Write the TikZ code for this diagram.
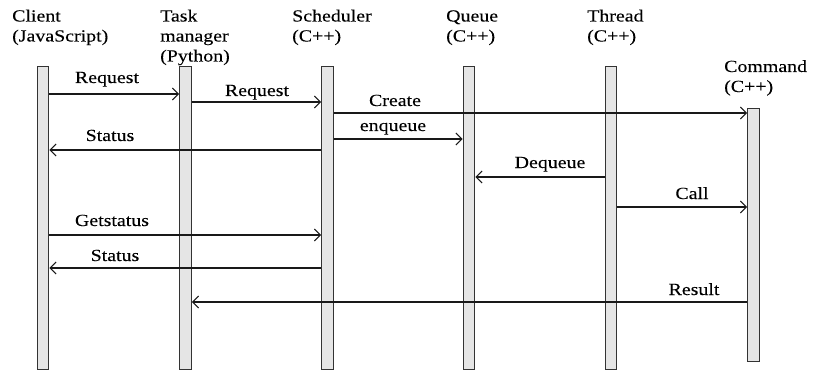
\documentclass[tikz,border=0pt]{standalone}
\usepackage{fontspec}
\setmainfont{Liberation Serif}[FakeStretch=1.17,FakeBold=0.12]
\usetikzlibrary{arrows.meta}
\begin{document}
\begin{tikzpicture}[x=1pt,y=-1pt,
  bar/.style={draw=black!80, fill=black!10, line width=1.1pt, minimum width=11.5pt, inner sep=0pt, anchor=north},
  msg/.style={draw=black!90, line width=1.1pt, -{Straight Barb[length=6pt,width=12pt,line width=1.1pt]}},
  lbl/.style={anchor=base, inner sep=0pt, font=\fontsize{17}{20}\selectfont},
  head/.style={anchor=base west, align=left, inner sep=0pt, font=\fontsize{17}{20}\selectfont}]
\useasboundingbox (0,0) rectangle (818,374);
% headers (anchor at baseline of last line)
\node[head] (hcl) at (12,41.5) {Client\\(JavaScript)};
\node[head] (htm) at (160,61.5) {Task\\manager\\(Python)};
\node[head] (hsc) at (292,41.5) {Scheduler\\(C++)};
\node[head] (hqu) at (446,41.5) {Queue\\(C++)};
\node[head] (hth) at (587,41.5) {Thread\\(C++)};
\node[head] (hcm) at (724,92) {Command\\(C++)};
% lifelines
\node[bar, minimum height=303pt] (cl) at (43,66) {};
\node[bar, minimum height=303pt] (tm) at (185.5,66) {};
\node[bar, minimum height=303pt] (sc) at (327.5,66) {};
\node[bar, minimum height=303pt] (qu) at (469,66) {};
\node[bar, minimum height=303pt] (th) at (611,66) {};
\node[bar, minimum height=253pt] (cm) at (753.5,108) {};
% message rows
\coordinate (r1) at (0,94);
\coordinate (r2) at (0,102);
\coordinate (r3) at (0,113);
\coordinate (r4) at (0,139);
\coordinate (r5) at (0,150);
\coordinate (r6) at (0,177);
\coordinate (r7) at (0,207);
\coordinate (r8) at (0,235);
\coordinate (r9) at (0,268);
\coordinate (r10) at (0,302);
% messages
\draw[msg] (cl.east |- r1) -- (tm.west |- r1);
\draw[msg] (tm.east |- r2) -- (sc.west |- r2);
\draw[msg] (sc.east |- r3) -- (cm.west |- r3);
\draw[msg] (sc.east |- r4) -- (qu.west |- r4);
\draw[msg] (sc.west |- r5) -- (cl.east |- r5);
\draw[msg] (th.west |- r6) -- (qu.east |- r6);
\draw[msg] (th.east |- r7) -- (cm.west |- r7);
\draw[msg] (cl.east |- r8) -- (sc.west |- r8);
\draw[msg] (sc.west |- r9) -- (cl.east |- r9);
\draw[msg] (cm.west |- r10) -- (tm.east |- r10);
% labels
\node[lbl] (l1) at (107,83) {Request};
\node[lbl] (l2) at (257,96) {Request};
\node[lbl] (l3) at (395,106) {Create};
\node[lbl] (l4) at (393,131) {enqueue};
\node[lbl] (l5) at (110,141) {Status};
\node[lbl] (l6) at (550,168) {Dequeue};
\node[lbl] (l7) at (692,199) {Call};
\node[lbl] (l8) at (112,226) {Getstatus};
\node[lbl] (l9) at (115,261) {Status};
\node[lbl] (l10) at (694,295) {Result};
\end{tikzpicture}
\end{document}
